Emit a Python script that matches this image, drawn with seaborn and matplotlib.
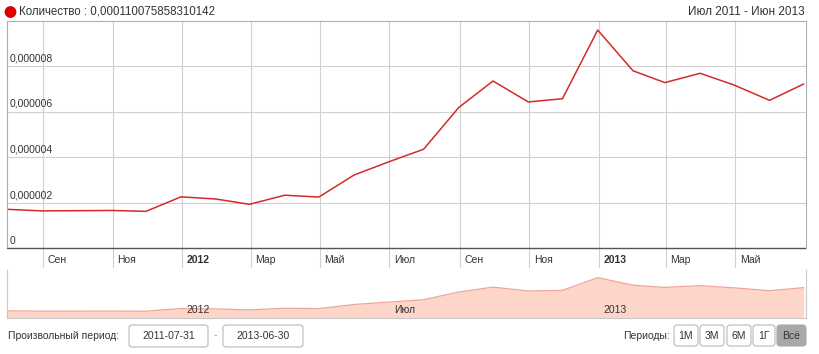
import pandas as pd
import numpy as np
import seaborn as sns
import matplotlib.pyplot as plt
from matplotlib.patches import FancyBboxPatch, Circle

# monthly values, Jul 2011 .. Jun 2013
months = pd.date_range('2011-07-31', '2013-06-30', freq='ME')
values = [1.70e-6, 1.63e-6, 1.64e-6, 1.65e-6, 1.61e-6, 2.25e-6,
          2.15e-6, 1.92e-6, 2.32e-6, 2.24e-6, 3.21e-6, 3.78e-6,
          4.34e-6, 6.18e-6, 7.34e-6, 6.42e-6, 6.56e-6, 9.58e-6,
          7.79e-6, 7.27e-6, 7.68e-6, 7.16e-6, 6.49e-6, 7.21e-6]
ytick_vals = [0, 2e-6, 4e-6, 6e-6, 8e-6]
ytick_labels = ['0', '0,000002', '0,000004', '0,000006', '0,000008']
xtick_dates = pd.to_datetime(['2011-09-01', '2011-11-01', '2012-01-01', '2012-03-01',
                              '2012-05-01', '2012-07-01', '2012-09-01', '2012-11-01',
                              '2013-01-01', '2013-03-01', '2013-05-01'])
xtick_labels = ['Сен', 'Ноя', '2012', 'Мар', 'Май', 'Июл', 'Сен', 'Ноя', '2013', 'Мар', 'Май']
nav_dates = pd.to_datetime(['2012-01-01', '2012-07-01', '2013-01-01'])
nav_labels = ['2012', 'Июл', '2013']
periods = ['1М', '3М', '6М', '1Г', 'Всё']

df = pd.DataFrame({'date': months, 'value': values})

sns.set_theme(style='white')
plt.rcParams['font.family'] = ['Liberation Sans', 'DejaVu Sans']

W, H = 819, 354
fig = plt.figure(figsize=(W / 100, H / 100), dpi=100)


def fx(x):
    return x / W


def fy(y):
    return 1 - y / H


xmin, xmax = pd.Timestamp('2011-07-31'), pd.Timestamp('2013-07-02')
grid_c = '#d0d0d0'
txt_c = '#333333'

# main chart: axes spans down to 268 px so grid lines pass through the label row
ax = fig.add_axes([fx(7), fy(268), fx(806) - fx(7), fy(21) - fy(268)])
ppv = 45.5 / 2e-6
ax.set_ylim(-20 / ppv, 227 / ppv)
ax.set_xlim(xmin, xmax)
ax.set_xticks(xtick_dates)
ax.set_yticks(ytick_vals[1:])
ax.grid(True, color=grid_c, lw=0.8)
ax.tick_params(length=0, labelbottom=False, labelleft=False)
for s in ['left', 'right', 'top']:
    ax.spines[s].set_color('#b0b0b0')
    ax.spines[s].set_linewidth(0.8)
ax.spines['bottom'].set_visible(False)
ax.spines['left'].set_bounds(0, 227 / ppv)
ax.spines['right'].set_bounds(0, 227 / ppv)
ax.axhline(0, color='#555555', lw=1.0, zorder=3)

sns.lineplot(data=df, x='date', y='value', ax=ax, color='#d42a2a', lw=1.1)
ax.set_xlabel('')
ax.set_ylabel('')

ytr = ax.get_yaxis_transform()
for v, lab in zip(ytick_vals, ytick_labels):
    ax.text(0.003, v + 2.5 / ppv, lab, transform=ytr, ha='left', va='bottom',
            fontsize=7.5, color=txt_c)
xtr = ax.get_xaxis_transform()
for d, lab in zip(xtick_dates, xtick_labels):
    ax.text(d + pd.Timedelta(days=4), 8 / 247, lab, transform=xtr, ha='left',
            va='center', fontsize=7.5, color=txt_c,
            fontweight='bold' if lab.isdigit() else 'normal')

# navigator
nav = fig.add_axes([fx(7), fy(318), fx(806) - fx(7), fy(270) - fy(318)])
nav.set_xlim(xmin, xmax)
nav.set_ylim(0, 1.14e-5)
nav.fill_between(df['date'], df['value'], color='#fdd5c9', lw=0)
sns.lineplot(data=df, x='date', y='value', ax=nav, color='#f0a596', lw=0.9)
nav.set_xlabel('')
nav.set_ylabel('')
nav.set_xticks([])
nav.set_yticks([])
for s in nav.spines.values():
    s.set_color('#c8c8c8')
    s.set_linewidth(0.8)
nav.spines['top'].set_visible(False)
for d, lab in zip(nav_dates, nav_labels):
    nav.text(d + pd.Timedelta(days=4), 0.16, lab, transform=nav.get_xaxis_transform(),
             ha='left', va='center', fontsize=7.5, color=txt_c)

# header (pixel -> inch coordinates so the dot stays round)
inch = fig.dpi_scale_trans
fig.patches.append(Circle((10.5 / 100, (H - 12) / 100), radius=0.052, transform=inch,
                          color='#e00000'))
fig.text(fx(19), fy(12), 'Количество : 0,000110075858310142', ha='left', va='center',
         fontsize=8.3, color=txt_c)
fig.text(fx(805), fy(12), 'Июл 2011 - Июн 2013', ha='right', va='center',
         fontsize=8.5, color=txt_c)


def box(x0, x1, y0, y1, face='white', edge='#b8b8b8'):
    fig.patches.append(FancyBboxPatch((x0 / 100, (H - y1) / 100), (x1 - x0) / 100,
                                      (y1 - y0) / 100,
                                      boxstyle='round,pad=0,rounding_size=0.03',
                                      transform=inch, facecolor=face,
                                      edgecolor=edge, lw=0.8))


# footer controls
fig.text(fx(8), fy(336), 'Произвольный период:', ha='left', va='center',
         fontsize=7.5, color=txt_c)
box(129, 208, 325, 347)
fig.text(fx(168.5), fy(336), '2011-07-31', ha='center', va='center', fontsize=7.5, color=txt_c)
fig.text(fx(215.5), fy(335), '-', ha='center', va='center', fontsize=7.5, color='#999999')
box(223, 303, 325, 347)
fig.text(fx(263), fy(336), '2013-06-30', ha='center', va='center', fontsize=7.5, color=txt_c)

fig.text(fx(670), fy(336), 'Периоды:', ha='right', va='center', fontsize=7.5, color=txt_c)
btn_x = [(674, 698), (700, 724), (727, 751), (753, 775), (777, 806)]
for (x0, x1), lab in zip(btn_x, periods):
    active = lab == 'Всё'
    box(x0, x1, 325, 346, face='#a8a8a8' if active else 'white',
        edge='#a8a8a8' if active else '#b8b8b8')
    fig.text(fx((x0 + x1) / 2), fy(336), lab, ha='center', va='center',
             fontsize=7.5, color=txt_c)

fig.savefig('out.png', dpi=100)
